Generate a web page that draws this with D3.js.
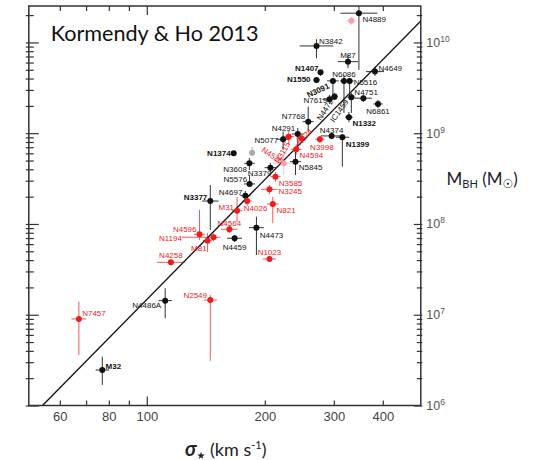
<!DOCTYPE html>
<html><head><meta charset="utf-8">
<script src="https://cdn.jsdelivr.net/npm/d3@7"></script>
<style>body{margin:0;background:#fff;} svg{display:block;}</style>
</head><body><svg id="c" width="537" height="460"></svg>
<script>
// ---------- DATA ----------
const names = ["N4889","","N3842","M87","N1407","N4649","N1550","N3091","N6086","N5516",
  "N4751","IC1459","N7619","N4472","N6861","N1332","N7768","N4291","N5077","N4374",
  "N1399","N3115","N524","N3998","N4594","N5845","N3379","N4526","N3585","N3245",
  "N821","N1374","","N3608","N5576","N4697","N4026","M31","N3377","N4564",
  "N4596","N1194","M81","N4459","N4473","N1023","N4258","N7457","N4486A","N2549","M32"];
const sigma = [347.6,332.5,271,326,277.5,382,271,298.4,318.4,329.2,
  356.8,332.5,292.6,301.3,388.9,327.8,258.1,242.7,222.7,296.1,
  315.4,230.2,247.7,276.4,240.5,239.5,206.7,223.5,212.9,205.5,
  209.6,166.6,185.6,182.7,182.9,178.4,180.3,169.9,145.2,162.4,
  136.3,148.0,142.9,167.5,190.4,205.5,115.2,67.1,111.4,145.2,77.0];
const mass = [2.10e10,1.73e10,9.15e9,6.14e9,4.70e9,4.77e9,3.86e9,3.77e9,3.77e9,3.77e9,
  2.43e9,2.49e9,2.37e9,2.53e9,2.10e9,1.50e9,1.34e9,9.8e8,8.58e8,9.33e8,
  9.03e8,9.16e8,8.80e8,8.58e8,6.65e8,4.86e8,4.17e8,4.67e8,3.32e8,2.41e8,
  1.66e8,6.01e8,6.1e8,4.66e8,2.76e8,2.05e8,1.79e8,1.40e8,1.79e8,8.74e7,
  7.70e7,7.14e7,6.55e7,6.96e7,9.1e7,4.12e7,3.78e7,8.98e6,1.43e7,1.45e7,2.46e6];
// E = black (ellipticals), C = red (classical bulges), P = pink, G = gray
const group = ["E","P","E","E","E","E","E","E","E","E",
  "E","E","E","E","E","E","E","E","E","E",
  "E","C","C","C","C","E","E","P","C","C",
  "C","E","G","E","E","E","C","C","E","C",
  "C","C","C","E","E","C","C","C","E","C","E"];
// error bars in dex
const sigErrLo = [0.047,0.013,0.043,0.026,0,0.023,0.008,0.015,0.01,0.01,
  0.022,0.01,0.018,0.008,0.012,0.01,0.014,0.015,0.017,0.028,
  0.017,0.014,0.013,0.012,0.014,0.014,0.015,0.028,0.013,0.021,
  0.015,0,0,0.013,0.014,0.013,0.013,0.014,0.021,0.021,
  0.014,0.081,0.012,0.019,0.019,0.017,0.036,0.019,0.017,0.017,0.017];
const sigErrHi = [0.047,0.013,0.043,0.026,0,0.023,0.008,0.015,0.01,0.01,
  0.022,0.01,0.018,0.008,0.012,0.01,0.014,0.015,0.017,0.028,
  0.017,0.014,0.013,0.012,0.014,0.014,0.015,0.028,0.013,0.021,
  0.015,0,0,0.013,0.014,0.013,0.013,0.014,0.021,0.021,
  0.014,0.017,0.012,0.019,0.019,0.017,0.036,0.019,0.017,0.017,0.017];
const massErrLo = [0.625,0.044,0.136,0.073,0.04,0.047,0.03,0.165,0.353,0.21,
  0.041,0.173,0.052,0.036,0.044,0.052,0.11,0.137,0.118,0.033,
  0.324,0.091,0.041,0.041,0.063,0.147,0.047,0.129,0.058,0.052,
  0.213,0,0.036,0.074,0.03,0.047,0.055,0.125,0.32,0.041,
  0.063,0.041,0.125,0.041,0.301,0.033,0.013,0.397,0.194,0.669,0.165];
const massErrHi = [0.25,0.044,0.074,0.074,0.025,0.052,0.03,0.033,0.066,0.033,
  0.036,0.047,0.047,0.041,0.044,0.058,0.165,0.066,0.084,0.033,
  0.036,0.063,0.047,0.036,0.058,0.11,0.052,0.125,0.052,0.047,
  0.08,0,0.066,0.058,0.099,0.052,0.055,0.151,0.176,0.047,
  0.268,0.041,0.085,0.036,0.121,0.033,0.014,0.191,0.137,0.055,0.147];
// fit line (Kormendy & Ho 2013) endpoints
const fitSigma = [54.2, 500];
const fitMass = [1.0e6, 1.72e10];
// ticks
const xMajorTicks = [100];
const xMinorTicks = [60,70,80,90,200,300,400];
const xTickLabels = [60,80,100,200,300,400];
const yMajorTicks = [1e6,1e7,1e8,1e9,1e10];
const yTickExponents = ["6","7","8","9","10"];

// ---------- LAYOUT (label placement) ----------
const labelPos = {
  "N4889":["start",3.5,9,0,0],"N3842":["start",2.5,-2,0,0],"M87":["middle",0,-4,0,0],
  "N1407":["end",-2,-1.5,0,1],"N4649":["start",3.5,-1,0,0],"N1550":["end",-6,2.5,0,1],
  "N6086":["middle",0,-3.5,0,0],"N5516":["start",4,4,0,0],"N3091":["end",-3,7,-25,1],
  "N4751":["start",-9,-3,0,0],"IC1459":["end",-2.5,4.5,-55,0],"N7619":["end",-2.5,4,0,0],
  "N4472":["end",-1,4.5,-58,0],"N6861":["middle",0,10,0,0],"N1332":["start",3.5,8.7,0,1],
  "N7768":["end",-3,-3,0,0],"N4291":["end",-2.5,-2.5,0,0],"N5077":["end",-5,3.5,0,0],
  "N4374":["middle",0,-3.3,0,0],"N1399":["start",3.3,10,0,1],"N3115":["end",1.7,7.3,-60,0],
  "N524":["start",-0.7,7.7,-50,0],"N3998":["middle",2,10.7,0,0],"N4594":["start",3.3,8.4,0,0],
  "N5845":["start",3.3,8.3,0,0],"N3379":["end",1,8.5,0,0],"N4526":["end",-3,1,33,0],
  "N3585":["start",3.3,9,0,0],"N3245":["start",9,4.7,0,0],"N821":["start",3.7,9,0,0],
  "N1374":["end",-3,3,0,1],"N3608":["end",-2.5,8.5,0,0],"N5576":["end",-2.5,-2,0,0],
  "N4697":["end",-3,-0.5,0,0],"N4026":["start",-3.4,10,0,0],"M31":["end",-3,-1,0,0],
  "N3377":["end",-3,-1,0,1],"N4564":["middle",0,-3.5,0,0],"N4596":["end",-3,-2,0,0],
  "N1194":["end",-31.6,3.5,0,0],"M81":["end",-1,10,0,0],"N4459":["middle",0,11.5,0,0],
  "N4473":["start",3.3,10,0,0],"N1023":["middle",0,-4,0,0],"N4258":["middle",0,-4.5,0,0],
  "N7457":["start",3.3,-3,0,0],"N4486A":["end",-4,7,0,0],"N2549":["end",-3.3,-2,0,0],
  "M32":["start",3.3,-1,0,1]
};
const dotColor = {E:"#111", C:"#ee1c1c", P:"#f5a3aa", G:"#aaaaaa"};
const barColor = {E:"#333", C:"#f05a5a", P:"#f8c4c8", G:"#aaaaaa"};
const textColor = {E:"#111", C:"#ee1c1c", P:"#ee1c1c", G:"#111"};

// ---------- CHART ----------
const L=28.8, R=420.8, T=6, B=405.5;
const svg = d3.select("#c");
const x = d3.scaleLog().domain([50,500]).range([L,R]);
const y = d3.scaleLog().domain([1e6,2.52e10]).range([B,T]);

svg.append("defs").append("clipPath").attr("id","clip")
  .append("rect").attr("x",L).attr("y",T).attr("width",R-L).attr("height",B-T);

const data = names.map((n,i)=>({name:n,s:sigma[i],m:mass[i],g:group[i],
  sl:sigErrLo[i],sh:sigErrHi[i],ml:massErrLo[i],mh:massErrHi[i]}));

// axes
const yMinorTicks = [];
for (let e=6;e<=10;e++) for (let k=2;k<=9;k++){const v=k*Math.pow(10,e); if (v<=2.52e10) yMinorTicks.push(v);}
const xAll = xMajorTicks.concat(xMinorTicks).sort((a,b)=>a-b);
const tickStyle = g => { g.select(".domain").remove(); g.selectAll("line").attr("stroke","#333").attr("stroke-width",1.2); };

const gb = svg.append("g").attr("transform",`translate(0,${B})`)
  .call(d3.axisBottom(x).tickValues(xAll).tickSize(-5).tickPadding(6.5)
    .tickFormat(d=>xTickLabels.includes(d)? d : ""));
tickStyle(gb);
gb.selectAll(".tick line").filter(d=>xMajorTicks.includes(d)).attr("y2",-9);
gb.selectAll("text").attr("font-family","Liberation Sans, Arial, sans-serif")
  .attr("font-size",13).attr("fill","#444");

const gt = svg.append("g").attr("transform",`translate(0,${T})`)
  .call(d3.axisTop(x).tickValues(xAll).tickSize(-5).tickFormat(""));
tickStyle(gt);
gt.selectAll(".tick line").filter(d=>xMajorTicks.includes(d)).attr("y2",9);

const gl = svg.append("g").attr("transform",`translate(${L},0)`)
  .call(d3.axisLeft(y).tickValues(yMajorTicks.concat(yMinorTicks)).tickSize(-5).tickFormat(""));
tickStyle(gl);
gl.selectAll(".tick line").attr("x1",-3);
gl.selectAll(".tick line").filter(d=>yMajorTicks.includes(d)).attr("x2",10);

const gr = svg.append("g").attr("transform",`translate(${R},0)`)
  .call(d3.axisRight(y).tickValues(yMajorTicks.concat(yMinorTicks)).tickSize(-4).tickFormat(""));
tickStyle(gr);
gr.selectAll(".tick line").attr("x1",1.5);
gr.selectAll(".tick line").filter(d=>yMajorTicks.includes(d)).attr("x2",-7);

// right tick labels 10^n
yMajorTicks.forEach((v,i)=>{
  const t = svg.append("text").attr("x",R+5.5).attr("y",y(v)+4.5)
    .attr("font-family","Liberation Sans Narrow, Arial Narrow, Liberation Sans, sans-serif")
    .attr("font-size",12.5).attr("fill","#555");
  t.append("tspan").text("10");
  t.append("tspan").attr("dy",-5).attr("font-size",8.5).text(yTickExponents[i]);
});

// frame
svg.append("rect").attr("x",L).attr("y",T).attr("width",R-L).attr("height",B-T)
  .attr("fill","none").attr("stroke","#333").attr("stroke-width",1.5);

const plot = svg.append("g").attr("clip-path","url(#clip)");

// error bars
data.forEach(d=>{
  if (d.sl>0 || d.sh>0)
    plot.append("line").attr("x1",x(d.s*Math.pow(10,-d.sl))).attr("x2",x(d.s*Math.pow(10,d.sh)))
      .attr("y1",y(d.m)).attr("y2",y(d.m)).attr("stroke",barColor[d.g]).attr("stroke-width",1);
  if (d.ml>0 || d.mh>0)
    plot.append("line").attr("x1",x(d.s)).attr("x2",x(d.s))
      .attr("y1",y(d.m*Math.pow(10,-d.ml))).attr("y2",y(d.m*Math.pow(10,d.mh)))
      .attr("stroke",barColor[d.g]).attr("stroke-width",1);
});

// fit line
plot.append("line").attr("x1",x(fitSigma[0])).attr("y1",y(fitMass[0]))
  .attr("x2",x(fitSigma[1])).attr("y2",y(fitMass[1]))
  .attr("stroke","#111").attr("stroke-width",1.3);

// dots
plot.selectAll("circle.pt").data(data).enter().append("circle").attr("class","pt")
  .attr("cx",d=>x(d.s)).attr("cy",d=>y(d.m)).attr("r",3).attr("fill",d=>dotColor[d.g]);

// labels
data.filter(d=>d.name && labelPos[d.name]).forEach(d=>{
  const p = labelPos[d.name];
  svg.append("text")
    .attr("transform",`translate(${x(d.s)+p[1]},${y(d.m)+p[2]}) rotate(${p[3]})`)
    .attr("text-anchor",p[0]).attr("font-family","Liberation Sans, Arial, sans-serif")
    .attr("font-size",8).attr("font-weight",p[4]?"bold":"normal")
    .attr("fill",textColor[d.g]).text(d.name);
});

// title
svg.append("text").attr("x",50.7).attr("y",40.7).attr("font-family","Lato, Open Sans, sans-serif")
  .attr("font-size",21.6).attr("fill","#111").text("Kormendy & Ho 2013");

// y title
const yt = svg.append("text").attr("x",446.5).attr("y",184.5)
  .attr("font-family","Lato, Open Sans, sans-serif").attr("font-size",17).attr("fill","#222");
yt.append("tspan").text("M");
yt.append("tspan").attr("dy",3).attr("font-size",11).text("BH");
yt.append("tspan").attr("dy",-3).text(" (M");
yt.append("tspan").attr("dy",3).attr("font-size",12).attr("font-family","DejaVu Sans, sans-serif").text("\u2609");
yt.append("tspan").attr("dy",-3).text(")");

// x title
const xt = svg.append("text").attr("x",185).attr("y",456)
  .attr("font-family","Lato, Open Sans, sans-serif").attr("font-size",18).attr("fill","#222");
xt.append("tspan").attr("font-weight","bold").attr("font-style","italic").attr("font-size",20).text("\u03c3");
xt.append("tspan").attr("dy",3).attr("font-size",10).attr("font-family","DejaVu Sans, sans-serif").text("\u2605");
xt.append("tspan").attr("dy",-3).text(" (km s");
xt.append("tspan").attr("dy",-7).attr("font-size",11).text("-1");
xt.append("tspan").attr("dy",7).text(")");
</script></body></html>
